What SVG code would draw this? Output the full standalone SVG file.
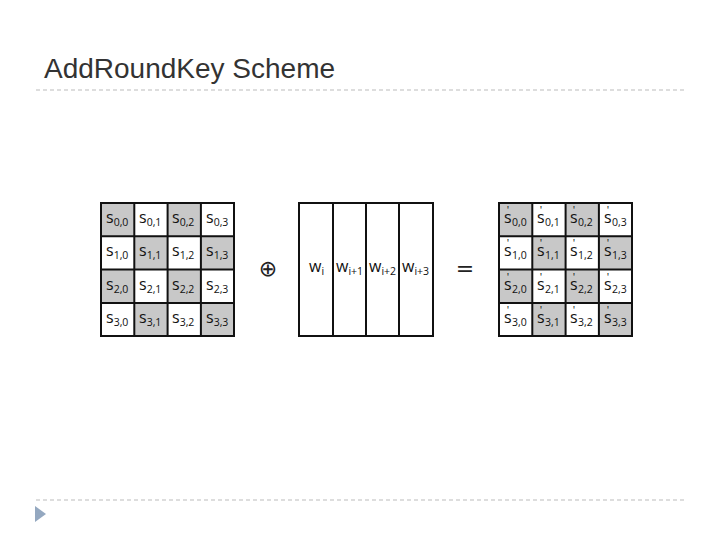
<svg xmlns="http://www.w3.org/2000/svg" width="720" height="540" viewBox="0 0 720 540">
<style>
.t{font-family:"Liberation Sans",Arial,sans-serif;font-size:28px;fill:#333}
.c{font-family:"Open Sans","DejaVu Sans",sans-serif;font-size:16px;fill:#111}
.s{font-size:10.5px}
.p{font-size:11px}
.op{font-family:"DejaVu Sans",sans-serif;font-size:22px;fill:#222}
.g{fill:#c8c8c8}
.b{fill:none;stroke:#111;stroke-width:2}
.d{stroke:#bbb;stroke-width:1;stroke-dasharray:4 3}
</style>
<rect width="720" height="540" fill="#fff"/>
<text class="t" x="44" y="78">AddRoundKey Scheme</text>
<line class="d" x1="36" y1="90" x2="686" y2="90"/>
<line class="d" x1="36" y1="500" x2="686" y2="500"/>
<polygon points="35,506 46,514 35,522" fill="#94a8c0"/>
<g id="state">
<rect class="g" x="101" y="203" width="33.3" height="33.3"/><rect class="g" x="167.6" y="203" width="33.3" height="33.3"/>
<rect class="g" x="134.3" y="236.3" width="33.3" height="33.3"/><rect class="g" x="200.9" y="236.3" width="33.3" height="33.3"/>
<rect class="g" x="101" y="269.6" width="33.3" height="33.3"/><rect class="g" x="167.6" y="269.6" width="33.3" height="33.3"/>
<rect class="g" x="134.3" y="302.9" width="33.3" height="33.3"/><rect class="g" x="200.9" y="302.9" width="33.3" height="33.3"/>
<path class="b" d="M101,203h133v133h-133zM134.3,203v133M167.6,203v133M200.9,203v133M101,236.3h133M101,269.6h133M101,302.9h133"/>
<g class="c">
<text x="106" y="223">s<tspan class="s" dy="3">0,0</tspan></text><text x="139" y="223">s<tspan class="s" dy="3">0,1</tspan></text><text x="172" y="223">s<tspan class="s" dy="3">0,2</tspan></text><text x="206" y="223">s<tspan class="s" dy="3">0,3</tspan></text>
<text x="106" y="256">s<tspan class="s" dy="3">1,0</tspan></text><text x="139" y="256">s<tspan class="s" dy="3">1,1</tspan></text><text x="172" y="256">s<tspan class="s" dy="3">1,2</tspan></text><text x="206" y="256">s<tspan class="s" dy="3">1,3</tspan></text>
<text x="106" y="290">s<tspan class="s" dy="3">2,0</tspan></text><text x="139" y="290">s<tspan class="s" dy="3">2,1</tspan></text><text x="172" y="290">s<tspan class="s" dy="3">2,2</tspan></text><text x="206" y="290">s<tspan class="s" dy="3">2,3</tspan></text>
<text x="106" y="323">s<tspan class="s" dy="3">3,0</tspan></text><text x="139" y="323">s<tspan class="s" dy="3">3,1</tspan></text><text x="172" y="323">s<tspan class="s" dy="3">3,2</tspan></text><text x="206" y="323">s<tspan class="s" dy="3">3,3</tspan></text>
</g>
</g>
<g id="xor"><text class="op" x="268" y="276" text-anchor="middle">⊕</text></g>
<g id="key">
<path class="b" d="M299,203h134v133h-134zM333,203v133M366,203v133M399,203v133"/>
<g class="c">
<text x="309" y="272">w<tspan class="s" dy="3">i</tspan></text>
<text x="336" y="272">w<tspan class="s" dy="3">i+1</tspan></text>
<text x="369" y="272">w<tspan class="s" dy="3">i+2</tspan></text>
<text x="402" y="272">w<tspan class="s" dy="3">i+3</tspan></text>
</g>
</g>
<g id="eq"><text class="op" x="465" y="276" text-anchor="middle">=</text></g>
<g id="result">
<rect class="g" x="499" y="203" width="33.3" height="33.3"/><rect class="g" x="565.6" y="203" width="33.3" height="33.3"/>
<rect class="g" x="532.3" y="236.3" width="33.3" height="33.3"/><rect class="g" x="598.9" y="236.3" width="33.3" height="33.3"/>
<rect class="g" x="499" y="269.6" width="33.3" height="33.3"/><rect class="g" x="565.6" y="269.6" width="33.3" height="33.3"/>
<rect class="g" x="532.3" y="302.9" width="33.3" height="33.3"/><rect class="g" x="598.9" y="302.9" width="33.3" height="33.3"/>
<path class="b" d="M499,203h133v133h-133zM532.3,203v133M565.6,203v133M598.9,203v133M499,236.3h133M499,269.6h133M499,302.9h133"/>
<g class="c">
<text x="504" y="223">s<tspan class="p" dx="-5" dy="-9">'</tspan><tspan class="s" dx="3" dy="12">0,0</tspan></text><text x="537" y="223">s<tspan class="p" dx="-5" dy="-9">'</tspan><tspan class="s" dx="3" dy="12">0,1</tspan></text><text x="570" y="223">s<tspan class="p" dx="-5" dy="-9">'</tspan><tspan class="s" dx="3" dy="12">0,2</tspan></text><text x="604" y="223">s<tspan class="p" dx="-5" dy="-9">'</tspan><tspan class="s" dx="3" dy="12">0,3</tspan></text>
<text x="504" y="256">s<tspan class="p" dx="-5" dy="-9">'</tspan><tspan class="s" dx="3" dy="12">1,0</tspan></text><text x="537" y="256">s<tspan class="p" dx="-5" dy="-9">'</tspan><tspan class="s" dx="3" dy="12">1,1</tspan></text><text x="570" y="256">s<tspan class="p" dx="-5" dy="-9">'</tspan><tspan class="s" dx="3" dy="12">1,2</tspan></text><text x="604" y="256">s<tspan class="p" dx="-5" dy="-9">'</tspan><tspan class="s" dx="3" dy="12">1,3</tspan></text>
<text x="504" y="290">s<tspan class="p" dx="-5" dy="-9">'</tspan><tspan class="s" dx="3" dy="12">2,0</tspan></text><text x="537" y="290">s<tspan class="p" dx="-5" dy="-9">'</tspan><tspan class="s" dx="3" dy="12">2,1</tspan></text><text x="570" y="290">s<tspan class="p" dx="-5" dy="-9">'</tspan><tspan class="s" dx="3" dy="12">2,2</tspan></text><text x="604" y="290">s<tspan class="p" dx="-5" dy="-9">'</tspan><tspan class="s" dx="3" dy="12">2,3</tspan></text>
<text x="504" y="323">s<tspan class="p" dx="-5" dy="-9">'</tspan><tspan class="s" dx="3" dy="12">3,0</tspan></text><text x="537" y="323">s<tspan class="p" dx="-5" dy="-9">'</tspan><tspan class="s" dx="3" dy="12">3,1</tspan></text><text x="570" y="323">s<tspan class="p" dx="-5" dy="-9">'</tspan><tspan class="s" dx="3" dy="12">3,2</tspan></text><text x="604" y="323">s<tspan class="p" dx="-5" dy="-9">'</tspan><tspan class="s" dx="3" dy="12">3,3</tspan></text>
</g>
</g>
</svg>
